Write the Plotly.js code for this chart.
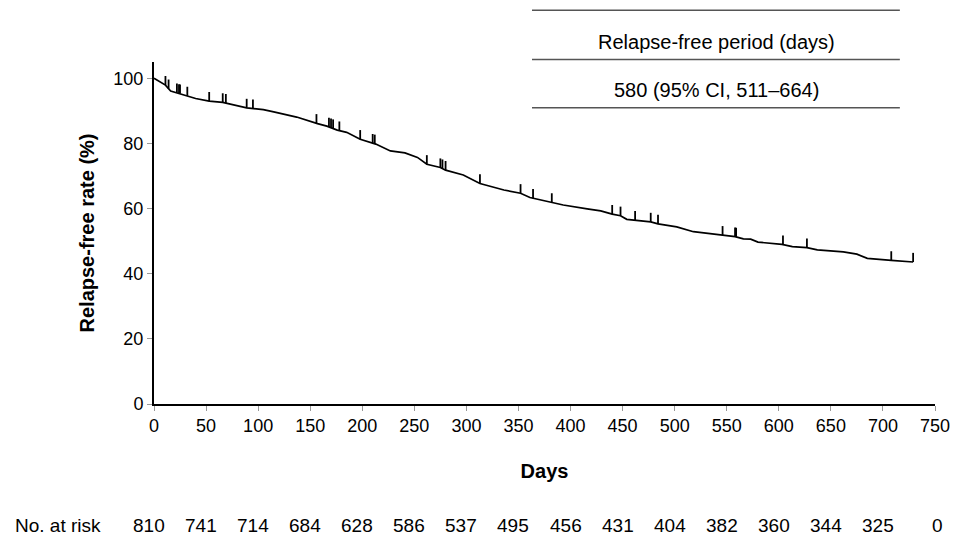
<!DOCTYPE html>
<html>
<head>
<meta charset="utf-8">
<script src="https://cdn.plot.ly/plotly-3.0.1.min.js"></script>
<style>html,body{margin:0;padding:0;background:#fff;}#chart{width:955px;height:537px;}</style>
</head>
<body>
<div id="chart"></div>
<script>
// Kaplan-Meier estimate (days, relapse-free %)
const kmDays = [0, 11, 16, 25, 32, 40, 53, 66, 89, 105, 115, 137, 157, 166, 176, 185, 198, 213, 227, 241, 253, 262, 275, 280, 297, 313, 336, 352, 361, 382, 393, 416, 429, 440, 448, 454, 477, 484, 502, 518, 544, 558, 566, 573, 580, 603, 613, 627, 637, 662, 675, 685, 708, 729];
const kmRate = [100, 97.9, 96.1, 95.3, 94.6, 93.8, 93.0, 92.6, 90.9, 90.4, 89.7, 88.1, 86.1, 85.3, 84.1, 83.4, 81.3, 79.8, 77.7, 77.1, 75.7, 73.6, 72.6, 71.8, 70.3, 67.7, 65.7, 64.7, 63.4, 61.9, 61.1, 59.9, 59.3, 58.3, 57.8, 56.7, 55.9, 55.3, 54.4, 52.9, 51.9, 51.4, 50.7, 50.6, 49.7, 49.0, 48.3, 48.0, 47.3, 46.7, 46.0, 44.7, 44.1, 43.6];
// censored observations (days)
const censorDays = [11, 14, 22, 24, 25, 32, 53, 66, 69, 89, 95, 156, 168, 170, 172, 178, 198, 210, 212, 262, 275, 277, 280, 313, 352, 364, 382, 440, 448, 462, 477, 484, 546, 558, 559, 604, 627, 708, 729];
// number at risk row
const riskTicks = [0, 50, 100, 150, 200, 250, 300, 350, 400, 450, 500, 550, 600, 650, 700, 750];
const riskCounts = [810, 741, 714, 684, 628, 586, 537, 495, 456, 431, 404, 382, 360, 344, 325, 0];
const yTicks = [0, 20, 40, 60, 80, 100];
const headerTitle = 'Relapse-free period (days)';
const headerValue = '580 (95% CI, 511–664)';

const FONT = '"Liberation Sans", Arial, Helvetica, sans-serif';
const tickH = 2.8;

function rateAt(t) {
  for (let i = 0; i < kmDays.length - 1; i++) {
    if (t >= kmDays[i] && t <= kmDays[i + 1]) {
      const f = (t - kmDays[i]) / (kmDays[i + 1] - kmDays[i]);
      return kmRate[i] + f * (kmRate[i + 1] - kmRate[i]);
    }
  }
  return kmRate[kmRate.length - 1];
}

const cx = [], cy = [];
censorDays.forEach(t => {
  const r = rateAt(t);
  cx.push(t, t, null);
  cy.push(r, r + tickH, null);
});

const traces = [
  {x: kmDays, y: kmRate, mode: 'lines', line: {color: '#000', width: 1.7, shape: 'linear'}, hoverinfo: 'skip', showlegend: false},
  {x: cx, y: cy, mode: 'lines', line: {color: '#000', width: 1.8}, hoverinfo: 'skip', showlegend: false}
];

const riskY = -0.355;
const annotations = [
  {xref: 'paper', yref: 'paper', x: 0.72, y: 1.058, text: headerTitle, showarrow: false, xanchor: 'center', yanchor: 'middle', font: {family: FONT, size: 20, color: '#000'}},
  {xref: 'paper', yref: 'paper', x: 0.72, y: 0.917, text: headerValue, showarrow: false, xanchor: 'center', yanchor: 'middle', font: {family: FONT, size: 20, color: '#000'}},
  {xref: 'paper', yref: 'paper', x: -0.181, y: riskY, text: 'No. at risk', showarrow: false, xanchor: 'left', yanchor: 'middle', font: {family: FONT, size: 19, color: '#000'}}
];
riskTicks.forEach((t, i) => {
  annotations.push({xref: 'x', yref: 'paper', x: t, y: riskY, xshift: i === riskTicks.length - 1 ? 2 : -5, text: String(riskCounts[i]), showarrow: false, xanchor: 'center', yanchor: 'middle', font: {family: FONT, size: 19, color: '#000'}});
});

const lineStyle = {color: '#555', width: 1.5};
const shapes = [1.151, 1.007, 0.866].map(y => ({type: 'line', xref: 'paper', yref: 'paper', x0: 0.484, x1: 0.955, y0: y, y1: y, line: lineStyle}));

const layout = {
  width: 955, height: 537,
  margin: {l: 153.5, r: 20, t: 62, b: 133},
  paper_bgcolor: '#fff', plot_bgcolor: '#fff',
  font: {family: FONT, color: '#000'},
  xaxis: {
    range: [0, 750], tickvals: riskTicks, ticktext: riskTicks.map(String),
    showline: true, linecolor: '#000', linewidth: 1.5, zeroline: false, showgrid: false,
    ticks: 'outside', ticklen: 5, tickcolor: '#999', tickwidth: 1,
    tickfont: {family: FONT, size: 18, color: '#000'},
    title: {text: '<b>Days</b>', font: {family: FONT, size: 20, color: '#000'}, standoff: 29},
    automargin: false
  },
  yaxis: {
    range: [0, 105], tickvals: yTicks, ticktext: yTicks.map(String),
    showline: true, linecolor: '#000', linewidth: 2, zeroline: false, showgrid: false,
    ticks: 'outside', ticklen: 5, tickcolor: '#999', tickwidth: 1,
    tickfont: {family: FONT, size: 18, color: '#000'},
    title: {text: '<b>Relapse-free rate (%)</b>', font: {family: FONT, size: 20, color: '#000'}, standoff: 13},
    automargin: false
  },
  annotations: annotations,
  shapes: shapes,
  showlegend: false
};

Plotly.newPlot('chart', traces, layout, {staticPlot: true, displayModeBar: false});
</script>
</body>
</html>
